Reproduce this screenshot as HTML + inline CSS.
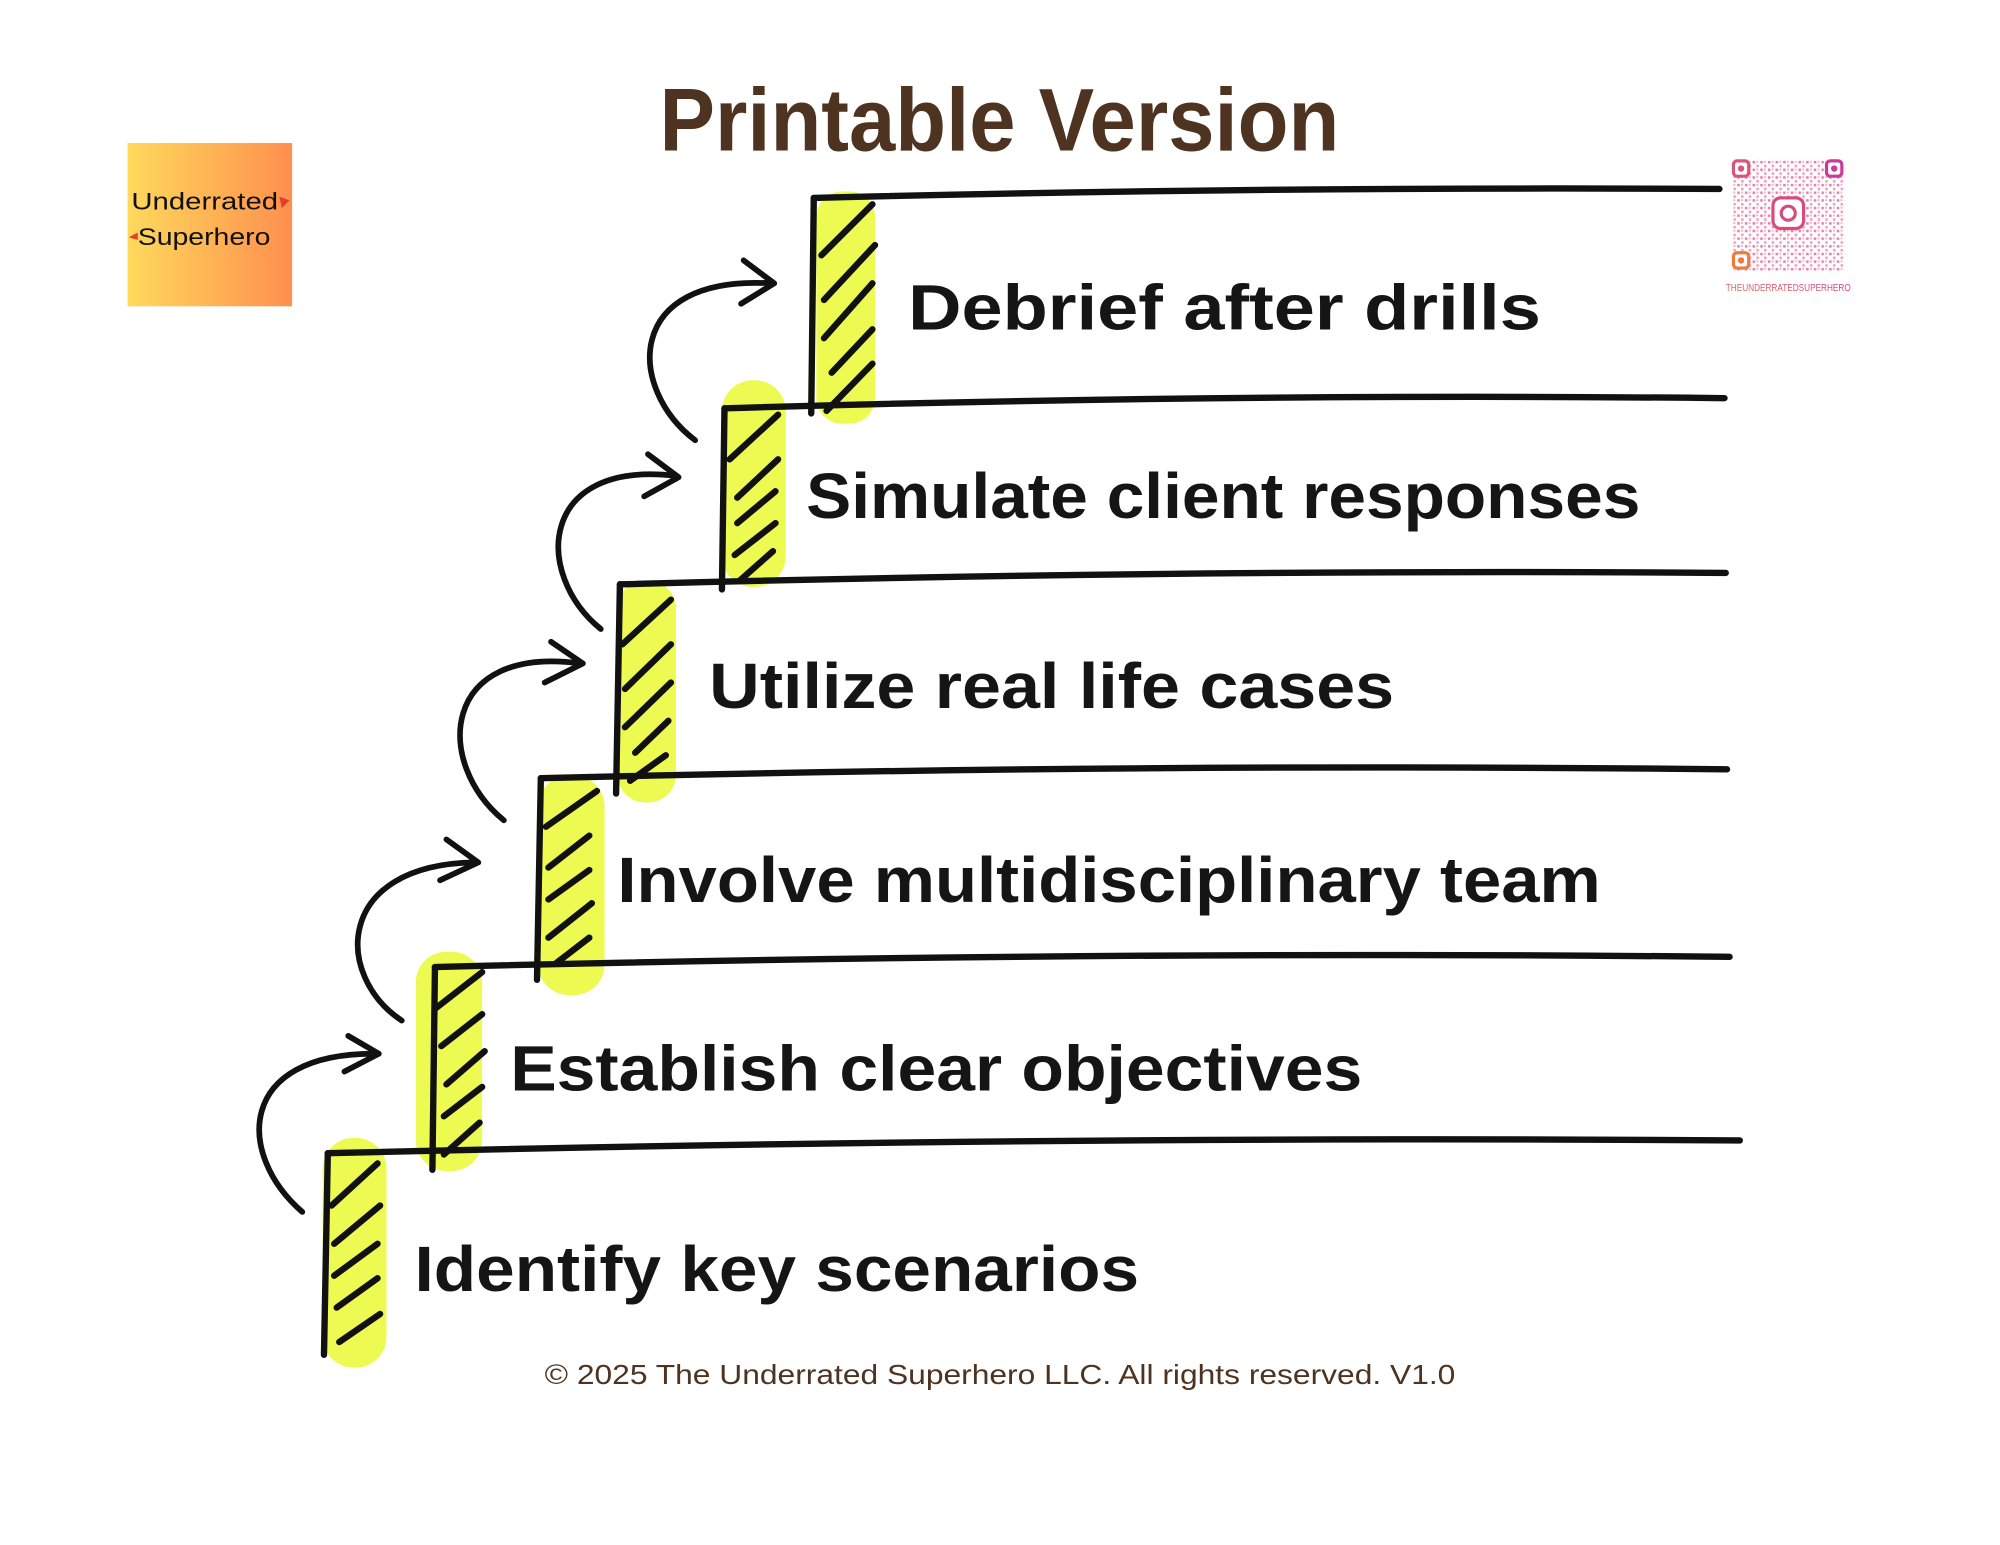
<!DOCTYPE html>
<html><head><meta charset="utf-8"><style>
html,body{margin:0;padding:0;background:#fff;}
svg{display:block;}
</style></head><body>
<svg width="2000" height="1545" viewBox="0 0 1568 1211" xmlns="http://www.w3.org/2000/svg">
<defs>
<linearGradient id="lg" x1="0" x2="1" y1="0" y2="0"><stop offset="0" stop-color="#ffd95c"/><stop offset="1" stop-color="#ff8f4e"/></linearGradient>
<linearGradient id="qg" x1="0" x2="1" y1="1" y2="0"><stop offset="0" stop-color="#f07a3c"/><stop offset="1" stop-color="#c93a9a"/></linearGradient>
<pattern id="qp" width="6" height="6" patternUnits="userSpaceOnUse"><rect x="0" y="0" width="2" height="2" fill="#e0609a"/><rect x="3" y="3" width="2" height="2" fill="#e88aa8"/><rect x="3" y="0" width="1.5" height="1.5" fill="#f0a0b8"/></pattern>
</defs>
<rect width="1568" height="1211" fill="#fff"/>
<!-- title -->
<text x="517" y="118" font-family="Liberation Sans, sans-serif" font-weight="bold" font-size="70" fill="#4e3320" textLength="533" lengthAdjust="spacingAndGlyphs">Printable Version</text>
<!-- logo -->
<rect x="100" y="112" width="129" height="128" fill="url(#lg)"/>
<text x="103" y="164" font-family="Liberation Sans, sans-serif" font-size="19" fill="#111" textLength="115" lengthAdjust="spacingAndGlyphs">Underrated</text>
<text x="108" y="192" font-family="Liberation Sans, sans-serif" font-size="19" fill="#111" textLength="104" lengthAdjust="spacingAndGlyphs">Superhero</text>
<path d="M219,154 l8,3 -6,6z M108,182 l-7,4 7,2z" fill="#e0402a"/>
<!-- QR -->
<rect x="1358" y="125" width="88" height="87" fill="url(#qp)" opacity="0.8"/>
<g fill="none" stroke-width="2.5">
<rect x="1359" y="126" width="12" height="12" rx="3" stroke="#d9557a" fill="#fff"/>
<rect x="1432" y="126" width="12" height="12" rx="3" stroke="#c93a9a" fill="#fff"/>
<rect x="1359" y="198" width="12" height="12" rx="3" stroke="#f07a3c" fill="#fff"/>
<rect x="1390" y="155" width="24" height="24" rx="6" stroke="#d94c7a" fill="#fff"/>
<circle cx="1402" cy="167" r="5.5" stroke="#d94c7a"/>
</g>
<circle cx="1365" cy="132" r="2.5" fill="#d9557a"/><circle cx="1438" cy="132" r="2.5" fill="#c93a9a"/><circle cx="1365" cy="204" r="2.5" fill="#f07a3c"/>
<text x="1353" y="228" font-family="Liberation Sans, sans-serif" font-size="8" fill="url(#qg)" textLength="98" lengthAdjust="spacingAndGlyphs">THEUNDERRATEDSUPERHERO</text>

<!-- yellow bars -->
<g fill="#ecfa52">
<rect x="640" y="150" width="46" height="182" rx="20"/>
<rect x="566" y="298" width="50" height="162" rx="24"/>
<rect x="484" y="455" width="46" height="174" rx="22"/>
<rect x="422" y="608" width="52" height="172" rx="24"/>
<rect x="326" y="746" width="52" height="172" rx="24"/>
<rect x="253" y="892" width="50" height="180" rx="24"/>
</g>
<!-- hatching -->
<g stroke="#111" stroke-width="5" stroke-linecap="round" fill="none">
<path d="M644,200 L684,160 M646,235 L686,192 M646,265 L684,222 M652,292 L684,258 M648,322 L684,285"/>
<path d="M572,360 L610,325 M578,390 L610,360 M578,410 L608,385 M576,435 L608,410 M580,455 L606,432"/>
<path d="M488,505 L526,470 M490,540 L526,505 M490,570 L526,535 M498,590 L524,565 M494,612 L522,592"/>
<path d="M428,648 L468,620 M430,680 L462,655 M430,705 L462,682 M430,735 L464,708 M436,755 L462,735"/>
<path d="M342,790 L378,762 M346,820 L378,795 M350,850 L380,824 M348,875 L378,852 M348,905 L376,880"/>
<path d="M260,945 L296,912 M262,975 L298,945 M262,1000 L296,975 M264,1025 L296,1002 M266,1052 L298,1030"/>
</g>
<!-- steps lines -->
<g stroke="#111" stroke-width="5" stroke-linecap="round" fill="none">
<path d="M638,155 Q990,146 1348,148"/>
<path d="M638,155 L636,324"/>
<path d="M568,320 Q960,308 1352,312"/>
<path d="M568,320 L566,462"/>
<path d="M486,458 Q920,446 1353,449"/>
<path d="M486,458 L483,622"/>
<path d="M424,610 Q890,598 1354,603"/>
<path d="M424,610 L421,768"/>
<path d="M341,758 Q850,745 1356,750"/>
<path d="M341,758 L339,917"/>
<path d="M257,904 Q810,890 1364,894"/>
<path d="M257,904 L254,1062"/>
</g>
<!-- arrows -->
<g stroke="#111" stroke-width="4.5" stroke-linecap="round" stroke-linejoin="round" fill="none">
<path d="M237,950 C185,905 185,825 295,826"/><path d="M273,812 L297,826 L270,840"/>
<path d="M315,800 C262,765 262,678 372,676"/><path d="M350,658 L375,676 L345,690"/>
<path d="M395,643 C340,598 345,505 455,520"/><path d="M432,503 L457,520 L427,535"/>
<path d="M471,493 C418,450 422,360 530,373"/><path d="M508,356 L532,374 L505,389"/>
<path d="M545,345 C492,305 488,215 605,222"/><path d="M583,204 L607,222 L581,238"/>
</g>
<!-- labels -->
<g font-family="Liberation Sans, sans-serif" font-weight="bold" font-size="50" fill="#151515">
<text x="712" y="258" textLength="496" lengthAdjust="spacingAndGlyphs">Debrief after drills</text>
<text x="632" y="406" textLength="654" lengthAdjust="spacingAndGlyphs">Simulate client responses</text>
<text x="556" y="555" textLength="537" lengthAdjust="spacingAndGlyphs">Utilize real life cases</text>
<text x="484" y="707" textLength="771" lengthAdjust="spacingAndGlyphs">Involve multidisciplinary team</text>
<text x="400" y="855" textLength="668" lengthAdjust="spacingAndGlyphs">Establish clear objectives</text>
<text x="325" y="1012" textLength="568" lengthAdjust="spacingAndGlyphs">Identify key scenarios</text>
</g>
<text x="427" y="1085" font-family="Liberation Sans, sans-serif" font-size="22" fill="#4e3320" textLength="714" lengthAdjust="spacingAndGlyphs">© 2025 The Underrated Superhero LLC. All rights reserved. V1.0</text>
</svg>
</body></html>
